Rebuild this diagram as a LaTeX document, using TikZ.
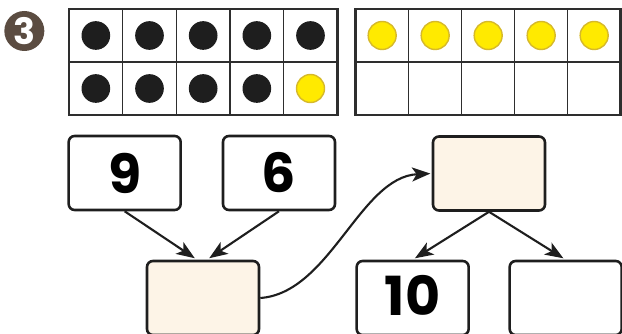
\documentclass[tikz,border=0pt]{standalone}
\usepackage{fontspec}
\newfontfamily\numfont{Poppins}
\usetikzlibrary{arrows.meta}
\definecolor{cream}{HTML}{FDF4E7}
\definecolor{badge}{HTML}{5B4C41}
\definecolor{counter}{HTML}{FFEA00}
\definecolor{counterrim}{HTML}{D6B92A}
\definecolor{ink}{HTML}{1E1E1E}
\definecolor{frameline}{HTML}{2E2E2E}
\begin{document}
\begin{tikzpicture}[
	numbox/.style={shape=rectangle, draw=ink, line width=2.2pt, rounded corners=0.18cm, minimum width=3.36cm, minimum height=2.22cm, inner sep=0pt, font=\numfont\bfseries\fontsize{46}{46}\selectfont},
	blankbox/.style={numbox, fill=cream},
	wire/.style={draw=ink, line width=1.8pt, -{Stealth[length=0.55cm, width=0.42cm, inset=0.14cm]}, shorten >=0.08cm},
	blackdot/.style={shape=circle, fill=ink, minimum size=0.86cm, inner sep=0pt},
	yellowdot/.style={shape=circle, fill=counter, draw=counterrim, line width=1.2pt, minimum size=0.84cm, inner sep=0pt},
	outer/.style={draw=frameline, line width=2.2pt},
	inner/.style={draw=frameline, line width=1.2pt}
]
	\useasboundingbox (0,0) rectangle (18.66,9.99);
	% Badge:
	\node[shape=circle, fill=badge, minimum size=1.2cm, inner sep=0pt, text=white, font=\numfont\bfseries\fontsize{31}{31}\selectfont] (badge) at (0.73, 9.06){3};
	% Left ten frame:
	\draw[inner] (2.07, 8.13) -- (10.12, 8.13);
	\draw[inner] (3.68, 6.54) -- (3.68, 9.72);
	\draw[inner] (5.29, 6.54) -- (5.29, 9.72);
	\draw[inner] (6.90, 6.54) -- (6.90, 9.72);
	\draw[inner] (8.51, 6.54) -- (8.51, 9.72);
	\draw[outer] (2.07, 6.54) rectangle (10.12, 9.72);
	\node[blackdot] (l1) at (2.875, 8.925){};
	\node[blackdot] (l2) at (4.485, 8.925){};
	\node[blackdot] (l3) at (6.095, 8.925){};
	\node[blackdot] (l4) at (7.705, 8.925){};
	\node[blackdot] (l5) at (9.315, 8.925){};
	\node[blackdot] (l6) at (2.875, 7.335){};
	\node[blackdot] (l7) at (4.485, 7.335){};
	\node[blackdot] (l8) at (6.095, 7.335){};
	\node[blackdot] (l9) at (7.705, 7.335){};
	\node[yellowdot] (l10) at (9.315, 7.335){};
	% Right ten frame:
	\draw[inner] (10.67, 8.13) -- (18.62, 8.13);
	\draw[inner] (12.26, 6.54) -- (12.26, 9.72);
	\draw[inner] (13.85, 6.54) -- (13.85, 9.72);
	\draw[inner] (15.44, 6.54) -- (15.44, 9.72);
	\draw[inner] (17.03, 6.54) -- (17.03, 9.72);
	\draw[outer] (10.67, 6.54) rectangle (18.62, 9.72);
	\node[yellowdot] (r1) at (11.465, 8.925){};
	\node[yellowdot] (r2) at (13.055, 8.925){};
	\node[yellowdot] (r3) at (14.645, 8.925){};
	\node[yellowdot] (r4) at (16.235, 8.925){};
	\node[yellowdot] (r5) at (17.825, 8.925){};
	% Paths, nodes and wires:
	\node[numbox] (nine) at (3.74, 4.80){9};
	\node[numbox] (six) at (8.37, 4.80){6};
	\node[blankbox] (sum) at (6.09, 1.05){};
	\node[blankbox] (split) at (14.67, 4.785){};
	\node[numbox] (ten) at (12.38, 1.05){};
	\node[font=\numfont\bfseries\fontsize{46}{46}\selectfont, inner sep=0pt] (tenlabel) at (12.38, 1.12){10};
	\node[numbox] (rest) at (16.97, 1.05){};
	\draw[wire] (nine.south) -- ([xshift=-0.18cm]sum.north);
	\draw[wire] (six.south) -- ([xshift=0.12cm]sum.north);
	\draw[wire, shorten >=0.04cm] (sum.east) .. controls (9.9, 1.2) and (10.8, 4.68) .. (split.west);
	\draw[wire] (split.south) -- (ten.north);
	\draw[wire] (split.south) -- (rest.north);
\end{tikzpicture}
\end{document}
